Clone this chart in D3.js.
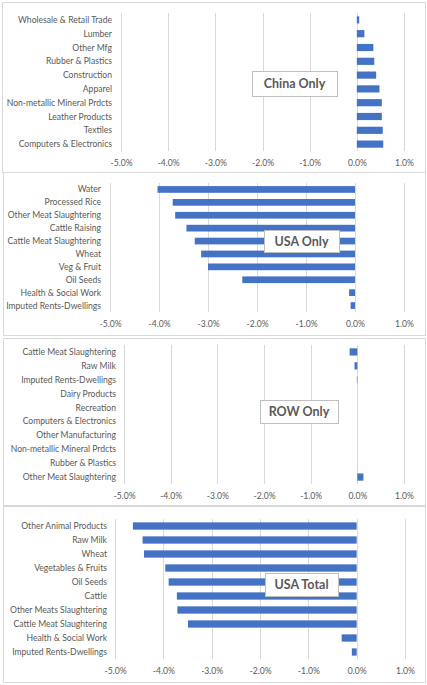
<!DOCTYPE html>
<html><head><meta charset="utf-8">
<script src="https://cdn.jsdelivr.net/npm/d3@7"></script>
<style>body{margin:0;background:#fff}svg{display:block}</style>
</head><body>
<script>
const tickValues = [-5, -4, -3, -2, -1, 0, 1];

const chinaCats = ["Wholesale & Retail Trade","Lumber","Other Mfg","Rubber & Plastics","Construction","Apparel","Non-metallic Mineral Prdcts","Leather Products","Textiles","Computers & Electronics"];
const chinaVals = [0.05, 0.16, 0.35, 0.37, 0.41, 0.48, 0.53, 0.53, 0.55, 0.56];

const usaCats = ["Water","Processed Rice","Other Meat Slaughtering","Cattle Raising","Cattle Meat Slaughtering","Wheat","Veg & Fruit","Oil Seeds","Health & Social Work","Imputed Rents-Dwellings"];
const usaVals = [-4.03, -3.72, -3.67, -3.44, -3.27, -3.14, -3.0, -2.30, -0.12, -0.09];

const rowCats = ["Cattle Meat Slaughtering","Raw Milk","Imputed Rents-Dwellings","Dairy Products","Recreation","Computers & Electronics","Other Manufacturing","Non-metallic Mineral Prdcts","Rubber & Plastics","Other Meat Slaughtering"];
const rowVals = [-0.165, -0.06, -0.01, 0, 0, 0, 0, 0, 0, 0.13];

const totalCats = ["Other Animal Products","Raw Milk","Wheat","Vegetables & Fruits","Oil Seeds","Cattle","Other Meats Slaughtering","Cattle Meat Slaughtering","Health & Social Work","Imputed Rents-Dwellings"];
const totalVals = [-4.63, -4.43, -4.40, -3.96, -3.89, -3.72, -3.71, -3.49, -0.31, -0.10];

const titles = ["China Only", "USA Only", "ROW Only", "USA Total"];

const W = 427, H = 685;
const svg = d3.select("body").append("svg").attr("width", W).attr("height", H);

const panels = [
  {cats: chinaCats, vals: chinaVals, title: titles[0], box:[2,2,423,170], y0:13, y1:151, xl:121, xr:404, labR:112, axY:163, tb:[252,71,85,25]},
  {cats: usaCats, vals: usaVals, title: titles[1], box:[3,172,422,163], y0:183, y1:312, xl:110, xr:404, labR:101, axY:324, tb:[264,230,75,22]},
  {cats: rowCats, vals: rowVals, title: titles[2], box:[3,338,422,167], y0:345, y1:484, xl:124, xr:404, labR:116, axY:496, tb:[260,400,78,23]},
  {cats: totalCats, vals: totalVals, title: titles[3], box:[3,506,422,176], y0:519, y1:659, xl:115, xr:405, labR:107, axY:671, tb:[265,573,73,23]}
];

const font = "Lato, 'Open Sans', sans-serif";

panels.forEach(p => {
  const g = svg.append("g");
  g.append("rect").attr("x", p.box[0]+0.5).attr("y", p.box[1]+0.5)
    .attr("width", p.box[2]).attr("height", p.box[3])
    .attr("fill", "#fff").attr("stroke", "#d9d9d9").attr("stroke-width", 1);

  const x = d3.scaleLinear().domain([-5, 1]).range([p.xl, p.xr]);
  const y = d3.scaleBand().domain(p.cats).range([p.y0, p.y1]).paddingInner(0.48).paddingOuter(0.24);

  g.selectAll(".grid").data(tickValues).enter().append("line")
    .attr("x1", d => Math.round(x(d))+0.5).attr("x2", d => Math.round(x(d))+0.5)
    .attr("y1", p.y0).attr("y2", p.y1)
    .attr("stroke", "#d9d9d9").attr("stroke-width", 1);

  g.selectAll(".bar").data(p.cats.map((c,i)=>({c, v:p.vals[i]}))).enter().append("rect")
    .attr("x", d => x(Math.min(0, d.v)))
    .attr("width", d => Math.abs(x(d.v) - x(0)))
    .attr("y", d => y(d.c))
    .attr("height", y.bandwidth())
    .attr("fill", "#4472c4");

  g.selectAll(".lab").data(p.cats).enter().append("text")
    .attr("x", p.labR).attr("y", d => y(d) + y.bandwidth()/2)
    .attr("dy", "0.35em").attr("text-anchor", "end")
    .attr("font-family", font).attr("font-size", 8.6).attr("fill", "#595959")
    .text(d => d);

  const axis = d3.axisBottom(x).tickValues(tickValues).tickSize(0).tickFormat(d => d.toFixed(1) + "%");
  const ag = g.append("g").attr("transform", `translate(0,${p.axY - 6})`).call(axis);
  ag.select(".domain").remove();
  ag.selectAll("text").attr("font-family", font).attr("font-size", 8.6).attr("fill", "#595959");

  g.append("rect").attr("x", p.tb[0]+0.5).attr("y", p.tb[1]+0.5).attr("width", p.tb[2]).attr("height", p.tb[3])
    .attr("fill", "#fff").attr("stroke", "#bfbfbf").attr("stroke-width", 1);
  g.append("text").attr("x", p.tb[0] + p.tb[2]/2).attr("y", p.tb[1] + p.tb[3]/2)
    .attr("dy", "0.36em").attr("text-anchor", "middle")
    .attr("font-family", font).attr("font-weight", "bold").attr("font-size", 12.5).attr("fill", "#595959")
    .text(p.title);
});
</script>
</body></html>
